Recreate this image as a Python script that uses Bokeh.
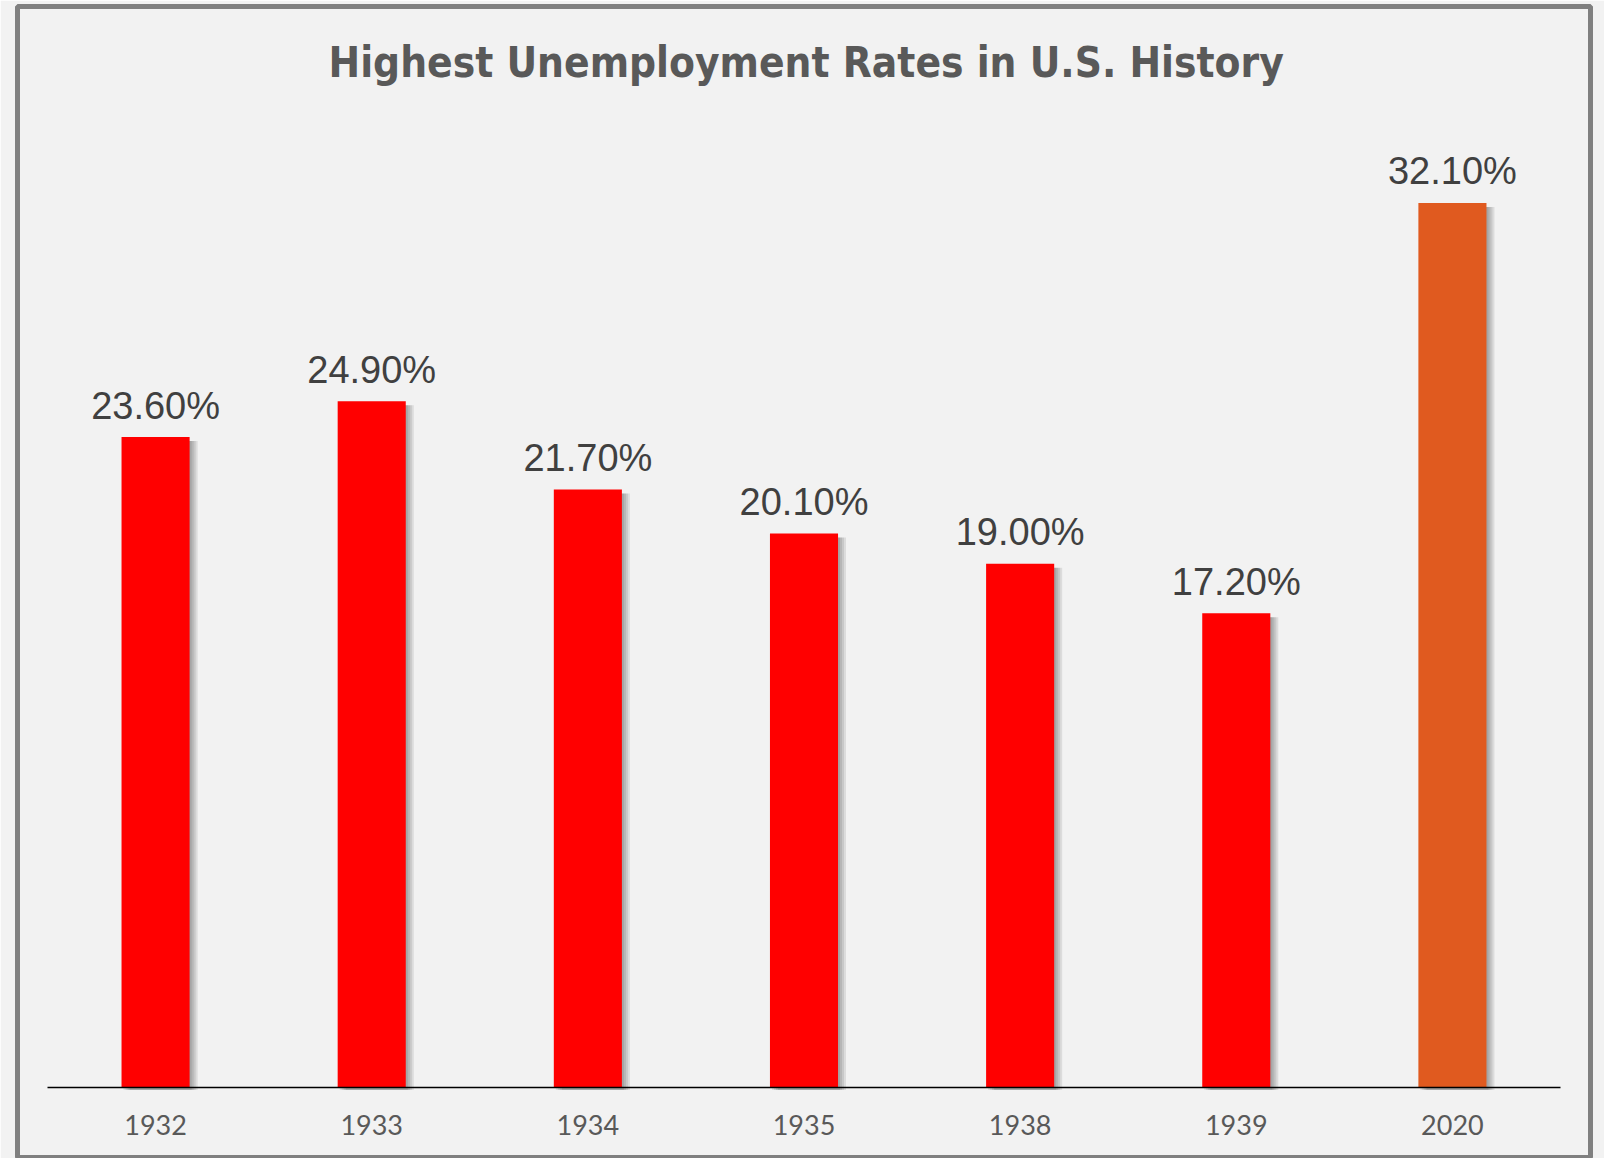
from bokeh.plotting import figure
from bokeh.models import ColumnDataSource, Range1d, FixedTicker
from bokeh.transform import dodge
from bokeh.core.properties import value
from bokeh.embed import file_html
from bokeh.resources import INLINE

years = ["1932", "1933", "1934", "1935", "1938", "1939", "2020"]
rates = [23.6, 24.9, 21.7, 20.1, 19.0, 17.2, 32.1]
colors = ["#FF0000", "#FF0000", "#FF0000", "#FF0000", "#FF0000", "#FF0000", "#E05A1F"]
labels = [f"{r:.2f}%" for r in rates]
title_text = "Highest Unemployment Rates in U.S. History"

W, H = 1604, 1158
BG = "#F2F2F2"
bar_w = 0.315

# layout constants (pixels)
frame_left, frame_right, frame_top, frame_bottom = 17, 1590, 6, 1158
cat_left, cat_right = 47, 1560
axis_y = 1086.5
px_per_unit_y = 27.54
px_per_cat = (cat_right - cat_left) / len(years)

xpad = (cat_left - frame_left) / px_per_cat
x_start = -0.5 - xpad
x_end = x_start + (frame_right - frame_left) / px_per_cat
y_start = -(frame_bottom - axis_y) / px_per_unit_y
y_end = (axis_y - frame_top) / px_per_unit_y

idx = list(range(len(years)))
label_y = [r + 31.5 / px_per_unit_y for r in rates]
shadow_top = [r - 4 / px_per_unit_y for r in rates]
src = ColumnDataSource(dict(x=idx, rate=rates, color=colors, label=labels, ly=label_y, stop=shadow_top))

p = figure(
    width=W, height=H,
    x_range=Range1d(x_start, x_end),
    y_range=Range1d(y_start, y_end),
    output_backend="svg", toolbar_location=None,
    y_axis_location=None,
    background_fill_color=BG, border_fill_color=BG,
    min_border_left=frame_left, min_border_right=W - frame_right,
    min_border_top=frame_top, min_border_bottom=H - frame_bottom,
)
p.outline_line_color = "#808080"
p.outline_line_width = 5
p.grid.visible = False

# shadows
for dpx in [2, 4, 6, 8]:
    p.vbar(x=dodge("x", dpx / px_per_cat), top="stop",
           bottom=-3 / px_per_unit_y, width=bar_w, fill_color="black", fill_alpha=0.09,
           line_color=None, source=src)

p.vbar(x="x", top="rate", bottom=0, width=bar_w, fill_color="color", line_color=None, source=src)

p.text(x="x", y="ly", text="label", source=src, text_align="center",
       text_baseline="alphabetic", text_font=value("Liberation Sans"),
       text_font_size="38px", text_color="#404040")

# title
p.text(x=[(len(years) - 1) / 2 + 0.01], y=[(axis_y - 62) / px_per_unit_y], text=[title_text],
       text_align="center", text_baseline="alphabetic",
       text_font=value("DejaVu Sans Condensed"), text_font_style="bold",
       text_font_size="42px", text_color="#595959")

ax = p.xaxis[0]
ax.fixed_location = 0
ax.bounds = (-0.5, len(years) - 0.5)
ax.ticker = FixedTicker(ticks=idx)
ax.major_label_overrides = {i: y for i, y in zip(idx, years)}
ax.axis_line_color = "black"
ax.axis_line_width = 1.5
ax.major_tick_line_color = None
ax.minor_tick_line_color = None
ax.major_label_text_font = "Lato"
ax.major_label_text_font_size = "27px"
ax.major_label_text_color = "#595959"
ax.major_label_standoff = 22

open("out.html", "w").write(file_html(p, INLINE))
